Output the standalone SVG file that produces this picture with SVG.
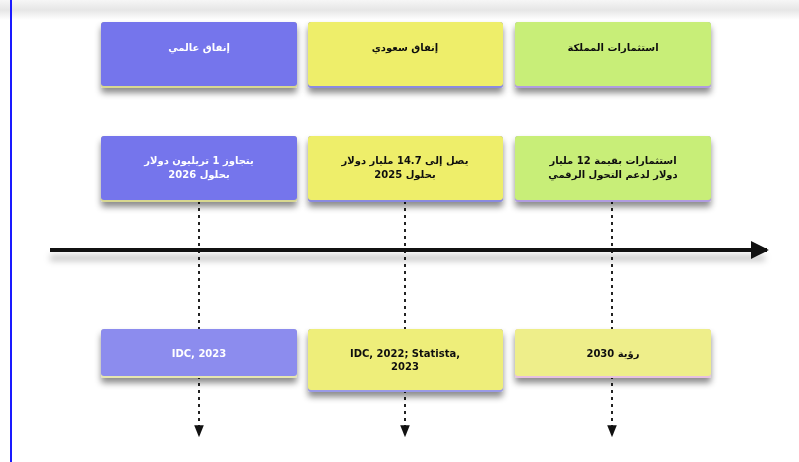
<svg xmlns="http://www.w3.org/2000/svg" width="799" height="462" viewBox="0 0 799 462">
  <defs>
    <linearGradient id="topband" x1="0" y1="0" x2="0" y2="1">
      <stop offset="0" stop-color="#f6f6f6"/>
      <stop offset="0.5" stop-color="#e6e6e6"/>
      <stop offset="1" stop-color="#ffffff"/>
    </linearGradient>
    <filter id="sh" x="-10%" y="-20%" width="120%" height="160%">
      <feDropShadow dx="0" dy="5" stdDeviation="3" flood-color="#000" flood-opacity="0.45"/>
    </filter>
    <filter id="blur" filterUnits="userSpaceOnUse" x="30" y="230" width="760" height="50">
      <feGaussianBlur stdDeviation="3"/>
    </filter>
    <marker id="bigArrow" viewBox="0 0 10 10" refX="9" refY="5" markerWidth="4.5" markerHeight="4.5" orient="auto" markerUnits="strokeWidth">
      <path d="M0,0 L10,5 L0,10 Z" fill="#111"/>
    </marker>
    <marker id="smallArrow" viewBox="0 0 10 10" refX="9" refY="5" markerWidth="6" markerHeight="6" orient="auto" markerUnits="strokeWidth">
      <path d="M0,1 L10,5 L0,9 Z" fill="#111"/>
    </marker>
  </defs>
  <style>
    .t { font-family: "DejaVu Sans", "Liberation Sans", sans-serif; font-size: 10px; font-weight: bold; text-anchor: middle; }
    .w { fill: #ffffff; }
    .k { fill: #111111; }
    .dash { stroke: #222; stroke-width: 2; stroke-dasharray: 3 4; fill: none; }
  </style>
  <rect width="799" height="462" fill="#ffffff"/>
  <rect x="0" y="0" width="799" height="20" fill="url(#topband)"/>
  <line x1="11" y1="0" x2="11" y2="462" stroke="#1a1aff" stroke-width="2"/>

  <g id="connectors">
    <line class="dash" x1="199" y1="201" x2="199" y2="436" marker-end="url(#smallArrow)"/>
    <line class="dash" x1="405" y1="201" x2="405" y2="436" marker-end="url(#smallArrow)"/>
    <line class="dash" x1="612" y1="201" x2="612" y2="436" marker-end="url(#smallArrow)"/>
    <line x1="50" y1="258" x2="765" y2="258" stroke="#000" stroke-opacity="0.22" stroke-width="6" filter="url(#blur)"/>
    <line x1="50" y1="250" x2="767" y2="250" stroke="#111" stroke-width="4" marker-end="url(#bigArrow)"/>
  </g>

  <g id="head-global" filter="url(#sh)">
    <rect x="101" y="22" width="196" height="66" rx="3" fill="#d8d890"/>
    <rect x="101" y="22" width="196" height="64" rx="3" fill="#7474ec"/>
    <text class="t w" x="199" y="51">إنفاق عالمي</text>
  </g>
  <g id="head-saudi" filter="url(#sh)">
    <rect x="308" y="22" width="195" height="66" rx="3" fill="#8a8ae0"/>
    <rect x="308" y="22" width="195" height="64" rx="3" fill="#eeee6a"/>
    <text class="t k" x="405" y="51">إنفاق سعودي</text>
  </g>
  <g id="head-kingdom" filter="url(#sh)">
    <rect x="515" y="22" width="196" height="66" rx="3" fill="#b09ce0"/>
    <rect x="515" y="22" width="196" height="64" rx="3" fill="#c8ee78"/>
    <text class="t k" x="613" y="51">استثمارات المملكة</text>
  </g>

  <g id="val-global" filter="url(#sh)">
    <rect x="101" y="136" width="196" height="66" rx="3" fill="#d8d890"/>
    <rect x="101" y="136" width="196" height="64" rx="3" fill="#7474ec"/>
    <text class="t w" x="199" y="164">يتجاوز 1 تريليون دولار</text>
    <text class="t w" x="199" y="178">بحلول 2026</text>
  </g>
  <g id="val-saudi" filter="url(#sh)">
    <rect x="308" y="136" width="195" height="66" rx="3" fill="#8a8ae0"/>
    <rect x="308" y="136" width="195" height="64" rx="3" fill="#eeee6a"/>
    <text class="t k" x="405" y="164">يصل إلى 14.7 مليار دولار</text>
    <text class="t k" x="405" y="178">بحلول 2025</text>
  </g>
  <g id="val-kingdom" filter="url(#sh)">
    <rect x="515" y="136" width="196" height="66" rx="3" fill="#b09ce0"/>
    <rect x="515" y="136" width="196" height="64" rx="3" fill="#c8ee78"/>
    <text class="t k" x="613" y="164">استثمارات بقيمة 12 مليار</text>
    <text class="t k" x="613" y="178">دولار لدعم التحول الرقمي</text>
  </g>

  <g id="src-global" filter="url(#sh)">
    <rect x="101" y="329" width="196" height="49" rx="3" fill="#e6e6b0"/>
    <rect x="101" y="329" width="196" height="47" rx="3" fill="#8c8cee"/>
    <text class="t w" x="199" y="357">IDC, 2023</text>
  </g>
  <g id="src-saudi" filter="url(#sh)">
    <rect x="308" y="329" width="195" height="63" rx="3" fill="#9a9ae6"/>
    <rect x="308" y="329" width="195" height="61" rx="3" fill="#eeee7a"/>
    <text class="t k" x="405" y="357">IDC, 2022; Statista,</text>
    <text class="t k" x="405" y="370">2023</text>
  </g>
  <g id="src-vision" filter="url(#sh)">
    <rect x="515" y="329" width="196" height="49" rx="3" fill="#e6c0e0"/>
    <rect x="515" y="329" width="196" height="47" rx="3" fill="#eeee8a"/>
    <text class="t k" x="613" y="357">رؤية 2030</text>
  </g>
</svg>
